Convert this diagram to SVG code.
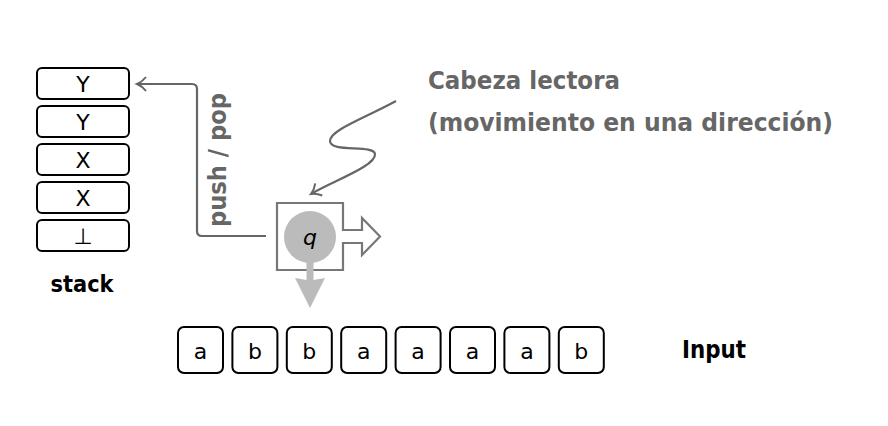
<svg xmlns="http://www.w3.org/2000/svg" width="888" height="426" viewBox="0 0 888 426">
<style>
.cell{fill:#fff;stroke:#000;stroke-width:2;}
.sym{font-family:"DejaVu Sans",sans-serif;font-size:22px;fill:#000;text-anchor:middle;}
.lbl{font-family:"DejaVu Sans",sans-serif;font-weight:bold;fill:#000;}
.gray{font-family:"DejaVu Sans",sans-serif;font-weight:bold;fill:#666;}
.conn{fill:none;stroke:#666;stroke-width:2.2;}
</style>
<defs>
<marker id="open" markerWidth="14" markerHeight="18" refX="10" refY="8" orient="auto" markerUnits="userSpaceOnUse">
<path d="M1,1 Q5,6 10,8 Q5,10 1,15" fill="none" stroke="#666" stroke-width="2"/>
</marker>
</defs>
<rect width="888" height="426" fill="#fff"/>
<g id="stack">
<g id="s1"><rect class="cell" x="37" y="68" width="92" height="31" rx="5"/><text class="sym" x="83" y="92">Y</text></g>
<g id="s2"><rect class="cell" x="37" y="106" width="92" height="31" rx="5"/><text class="sym" x="83" y="130">Y</text></g>
<g id="s3"><rect class="cell" x="37" y="144" width="92" height="31" rx="5"/><text class="sym" x="83" y="168">X</text></g>
<g id="s4"><rect class="cell" x="37" y="182" width="92" height="31" rx="5"/><text class="sym" x="83" y="206">X</text></g>
<g id="s5"><rect class="cell" x="37" y="220" width="92" height="31" rx="5"/><text class="sym" x="83" y="244">⊥</text></g>
<text class="lbl" x="82" y="292" font-size="23" text-anchor="middle" textLength="63" lengthAdjust="spacingAndGlyphs">stack</text>
</g>
<g id="tape">
<g id="t1"><rect class="cell" x="178" y="327" width="45" height="46" rx="6"/><text class="sym" x="200.5" y="359">a</text></g>
<g id="t2"><rect class="cell" x="232.4" y="327" width="45" height="46" rx="6"/><text class="sym" x="254.9" y="359">b</text></g>
<g id="t3"><rect class="cell" x="286.8" y="327" width="45" height="46" rx="6"/><text class="sym" x="309.3" y="359">b</text></g>
<g id="t4"><rect class="cell" x="341.2" y="327" width="45" height="46" rx="6"/><text class="sym" x="363.7" y="359">a</text></g>
<g id="t5"><rect class="cell" x="395.6" y="327" width="45" height="46" rx="6"/><text class="sym" x="418.1" y="359">a</text></g>
<g id="t6"><rect class="cell" x="450" y="327" width="45" height="46" rx="6"/><text class="sym" x="472.5" y="359">a</text></g>
<g id="t7"><rect class="cell" x="504.4" y="327" width="45" height="46" rx="6"/><text class="sym" x="526.9" y="359">a</text></g>
<g id="t8"><rect class="cell" x="558.8" y="327" width="45" height="46" rx="6"/><text class="sym" x="581.3" y="359">b</text></g>
<text class="lbl" x="682" y="358" font-size="24" textLength="64" lengthAdjust="spacingAndGlyphs">Input</text>
</g>
<g id="head">
<path d="M277,203 H343 V230 H362 V218 L380,236.5 L362,255 V243 H343 V270 H277 Z" fill="#fff" stroke="#777" stroke-width="2.2" stroke-linejoin="miter"/>
<circle cx="310" cy="237" r="26" fill="#bbb"/>
<text x="310" y="245" font-family="DejaVu Sans, sans-serif" font-style="italic" font-size="22" text-anchor="middle" fill="#000">q</text>
<path d="M306.5,262 H313.5 V280 L325,278 L310,308 L295,278 L306.5,280 Z" fill="#bbb"/>
</g>
<g id="caption">
<text class="gray" x="428" y="89" font-size="25" textLength="192" lengthAdjust="spacingAndGlyphs">Cabeza lectora</text>
<text class="gray" x="428" y="131" font-size="25" textLength="405" lengthAdjust="spacingAndGlyphs">(movimiento en una dirección)</text>
</g>
<g id="connectors">
<path class="conn" d="M266,236 H202 Q197,236 197,231 V89 Q197,84 192,84 H137" marker-end="url(#open)"/>
<path class="conn" d="M396,101 C365,118 330,130 330,141 C330,153 374,144 375,154 C376,166 335,180 311,194" marker-end="url(#open)"/>
<text class="gray" transform="translate(226,160) rotate(-90)" font-size="24" text-anchor="middle" textLength="134" lengthAdjust="spacingAndGlyphs">push / pop</text>
</g>
</svg>
